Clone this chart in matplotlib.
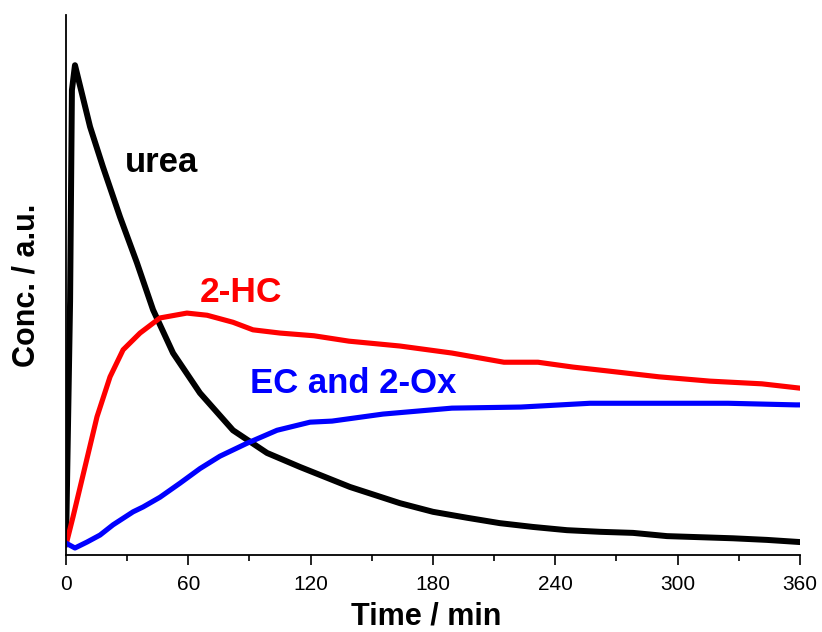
import numpy as np
import matplotlib
matplotlib.use("Agg")
import matplotlib.pyplot as plt
from matplotlib.ticker import MultipleLocator

plt.rcParams['font.family'] = ['Liberation Sans', 'DejaVu Sans']

# urea
t_urea = [0, 2.0, 2.9, 4.4, 11.8, 18.1, 26.5, 34.8, 42.7, 52.5, 65.7, 81.9, 98.6, 114.8,
          139.3, 163.8, 180.0, 196.7, 212.8, 229.0, 245.7, 261.9, 278.1, 294.8, 310.9,
          327.1, 343.8, 360]
c_urea = [0.019, 0.47, 0.861, 0.907, 0.793, 0.719, 0.626, 0.541, 0.454, 0.374, 0.300,
          0.231, 0.189, 0.163, 0.126, 0.096, 0.080, 0.069, 0.059, 0.052, 0.046, 0.043,
          0.041, 0.035, 0.033, 0.031, 0.028, 0.024]

# 2-HC
t_hc = [0, 3.4, 9.3, 15.2, 21.6, 28.0, 36.3, 46.1, 59.3, 69.2, 81.9, 91.7, 105.0, 121.6,
        138.8, 163.8, 189.3, 214.8, 231.5, 248.7, 265.3, 290.8, 315.8, 341.3, 360]
c_hc = [0.019, 0.070, 0.163, 0.256, 0.330, 0.380, 0.411, 0.439, 0.448, 0.444, 0.431,
        0.417, 0.411, 0.406, 0.396, 0.387, 0.374, 0.357, 0.357, 0.348, 0.341, 0.330,
        0.322, 0.317, 0.309]

# EC and 2-Ox
t_ec = [0, 4.4, 10.3, 16.7, 23.1, 32.9, 37.8, 46.1, 55.9, 65.7, 75.5, 88.8, 103.5, 119.7,
        130.5, 155.5, 189.3, 223.1, 257.0, 290.8, 324.7, 358.0, 360]
c_ec = [0.022, 0.013, 0.024, 0.037, 0.056, 0.080, 0.089, 0.107, 0.133, 0.160, 0.183,
        0.207, 0.231, 0.246, 0.248, 0.261, 0.272, 0.274, 0.281, 0.281, 0.281, 0.278, 0.278]

fig = plt.figure(figsize=(8.22, 6.32), dpi=100)
ax = fig.add_axes([0.0803, 0.1218, 0.8929, 0.8545])

ax.plot(t_urea, c_urea, color='black', lw=4.3, solid_capstyle='round', solid_joinstyle='round')
ax.plot(t_hc, c_hc, color='#ff0000', lw=3.7, solid_capstyle='round', solid_joinstyle='round')
ax.plot(t_ec, c_ec, color='#0000ff', lw=3.7, solid_capstyle='round', solid_joinstyle='round')

ax.text(28.9, 0.709, 'urea', color='black', fontsize=25, fontweight='bold')
ax.text(65.7, 0.469, '2-HC', color='#ff0000', fontsize=25.5, fontweight='bold')
ax.text(90.2, 0.300, 'EC and 2-Ox', color='#0000ff', fontsize=25, fontweight='bold')

ax.set_xlim(0, 360)
ax.set_ylim(0, 1)
ax.xaxis.set_major_locator(MultipleLocator(60))
ax.xaxis.set_minor_locator(MultipleLocator(30))
ax.set_yticks([])
for s in ['top', 'right']:
    ax.spines[s].set_visible(False)
ax.spines['left'].set_linewidth(1.3)
ax.spines['bottom'].set_linewidth(1.3)
ax.tick_params(axis='x', which='major', length=7.5, width=1.2, labelsize=15, pad=7)
ax.tick_params(axis='x', which='minor', length=4.5, width=1.2)

ax.set_xlabel('Time / min', fontsize=22, fontweight='bold')
ax.xaxis.label.set_va('baseline')
ax.xaxis.set_label_coords(0.491, -0.129)
ax.set_ylabel('Conc. / a.u.', fontsize=22, fontweight='bold', labelpad=18)

fig.savefig('out.png', dpi=100)
